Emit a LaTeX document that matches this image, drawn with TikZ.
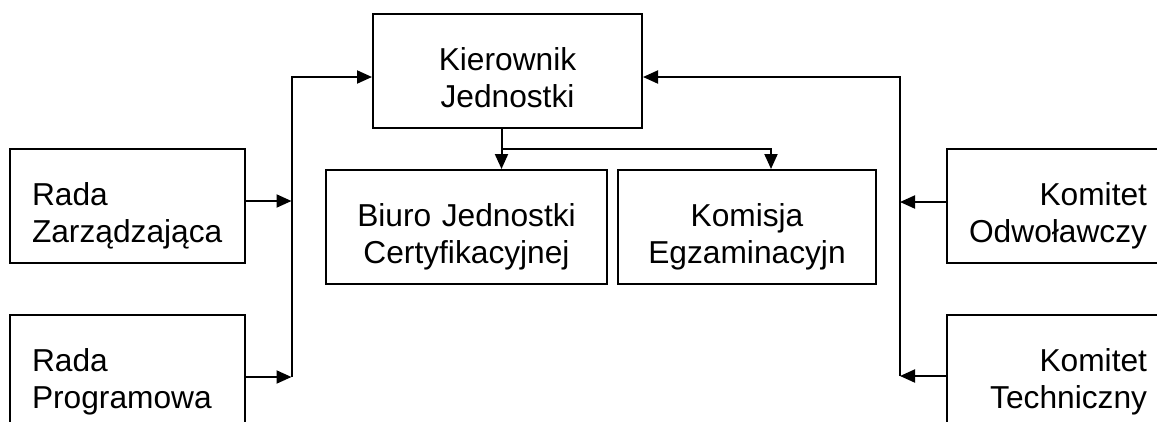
\documentclass[tikz,border=0pt]{standalone}
\usepackage{fontspec}
\setmainfont{Liberation Sans}
\usetikzlibrary{arrows.meta}

\begin{document}
\begin{tikzpicture}[x=1pt,y=-1pt,
  every node/.style={font=\fontsize{31.7}{37.5}\selectfont},
  unit/.style={draw, line width=2pt, inner ysep=0pt, text height=56pt, text depth=58pt},
  leftunit/.style={unit, inner xsep=22pt, text width=191pt, align=left},
  rightunit/.style={unit, inner xsep=20pt, text width=180pt, align=right},
  midunit/.style={unit, inner xsep=10pt, align=center},
  link/.style={line width=2pt},
  arr/.style={link, -{Triangle[length=15pt,width=13pt]}}]

  \useasboundingbox (0,0) rectangle (1157,421);
  \clip (0,0) rectangle (1157,421);

  % head of the unit and its two subordinate bodies
  \node[midunit, text width=249pt] (kj) at (507.5,71) {Kierownik\\Jednostki};
  \node[midunit, text width=261pt] (bj) at (466.5,227) {Biuro Jednostki\\Certyfikacyjnej};
  \node[midunit, text width=238pt] (ke) at (747,227) {Komisja\\Egzaminacyjn};

  % councils on the left
  \node[leftunit] (rz) at (127.5,206) {Rada\\Zarządzająca};
  \node[leftunit] (rp) at (127.5,372) {Rada\\Programowa};

  % committees on the right
  \node[rightunit] (ko) at (1057,206) {Komitet\\Odwoławczy};
  \node[rightunit] (kt) at (1057,372) {Komitet\\Techniczny};

  % left collecting line
  \coordinate (lb) at (291.5,377);
  \coordinate (rzout) at ([yshift=5pt]rz.east);
  \coordinate (rpout) at ([yshift=-5pt]rp.east);
  \draw[arr] (lb) |- ([yshift=-6pt]kj.west);
  \draw[arr] (rzout) -- (rzout -| lb);
  \draw[arr] (rpout) -- (rpout -| lb);

  % right collecting line
  \coordinate (rb) at (900,376);
  \coordinate (koout) at ([yshift=4pt]ko.west);
  \coordinate (ktout) at ([yshift=-4pt]kt.west);
  \draw[arr] (rb) |- ([yshift=-6pt]kj.east);
  \draw[arr] (koout) -- (koout -| rb);
  \draw[arr] (ktout) -- (ktout -| rb);

  % downward branches from the head
  \coordinate (stem) at ([xshift=-6pt]kj.south);
  \coordinate (forkY) at (0,149);
  \draw[arr] (stem) -- (stem |- bj.north);
  \draw[arr] (stem |- forkY) -| ([xshift=24pt]ke.north);
\end{tikzpicture}
\end{document}
